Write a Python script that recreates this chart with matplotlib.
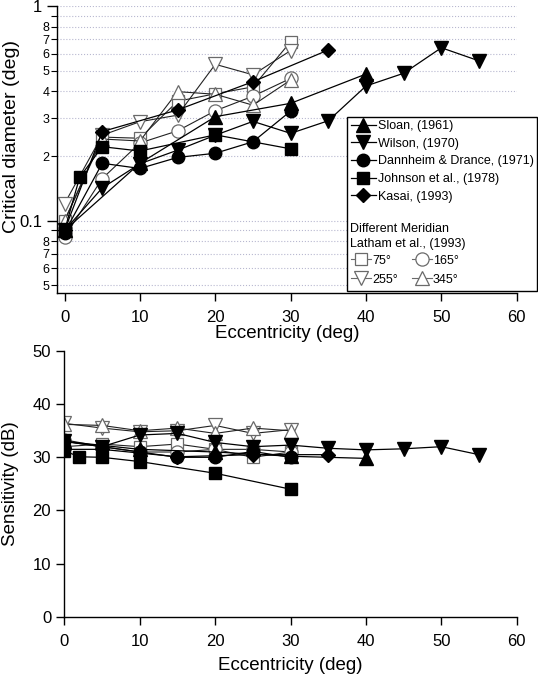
import numpy as np
import matplotlib.pyplot as plt
from matplotlib.lines import Line2D
from matplotlib.patches import Rectangle
from matplotlib.ticker import FixedLocator, FixedFormatter

plt.rcParams['font.family'] = ['Liberation Sans', 'DejaVu Sans']

# ---- critical diameter (deg) vs eccentricity ----
sloan_ecc_d = [0, 10, 20, 30, 40]
sloan_diam = [0.09, 0.185, 0.305, 0.352, 0.482]
wilson_ecc_d = [0, 5, 10, 15, 20, 25, 30, 35, 40, 45, 50, 55]
wilson_diam = [0.09, 0.142, 0.184, 0.213, 0.25, 0.29, 0.255, 0.292, 0.424, 0.486, 0.639, 0.555]
dann_ecc_d = [0, 5, 10, 15, 20, 25, 30]
dann_diam = [0.088, 0.185, 0.175, 0.197, 0.206, 0.233, 0.324]
johnson_ecc_d = [0, 2, 5, 10, 20, 30]
johnson_diam = [0.09, 0.159, 0.221, 0.211, 0.251, 0.216]
kasai_ecc_d = [0, 5, 15, 25, 35]
kasai_diam = [0.09, 0.26, 0.328, 0.444, 0.624]

latham_ecc = [0, 5, 10, 15, 20, 25, 30]
lat75_diam = [0.1, 0.245, 0.242, 0.36, 0.39, 0.42, 0.682]
lat165_diam = [0.084, 0.157, 0.23, 0.262, 0.325, 0.38, 0.46]
lat255_diam = [0.12, 0.25, 0.289, 0.31, 0.535, 0.478, 0.62]
lat345_diam = [0.1, 0.24, 0.235, 0.399, 0.388, 0.345, 0.452]

# ---- sensitivity (dB) vs eccentricity ----
sloan_ecc_s = [0, 10, 20, 30, 40]
sloan_sens = [33, 31.5, 31, 30.2, 29.8]
wilson_ecc_s = [0, 5, 10, 15, 20, 25, 30, 35, 40, 45, 50, 55]
wilson_sens = [33, 32, 34.2, 34.5, 32.8, 32.0, 32.3, 31.7, 31.4, 31.6, 32.0, 30.5]
dann_ecc_s = [0, 5, 10, 15, 20, 25, 30]
dann_sens = [33, 32, 31, 30, 30, 31.1, 30]
johnson_ecc_s = [0, 2, 5, 10, 20, 30]
johnson_sens = [31.2, 30.1, 30.0, 29.2, 27.0, 24.0]
kasai_ecc_s = [0, 5, 15, 25, 35]
kasai_sens = [31.5, 31.5, 30.1, 30.5, 30.5]
lat75_sens = [32, 32.5, 32, 32.5, 31.5, 30, 31]
lat165_sens = [33.3, 32, 31, 31, 31.5, 31.5, 31]
lat255_sens = [36.4, 35.5, 34.8, 35, 36.0, 34.5, 35.2]
lat345_sens = [36.2, 36.0, 35, 35.5, 34.5, 35.5, 35.0]

GRAY = '#6a6a6a'
filled = [
    ('Sloan, (1961)', '^', 9.5, sloan_ecc_d, sloan_diam, sloan_ecc_s, sloan_sens),
    ('Wilson, (1970)', 'v', 9.5, wilson_ecc_d, wilson_diam, wilson_ecc_s, wilson_sens),
    ('Dannheim & Drance, (1971)', 'o', 9, dann_ecc_d, dann_diam, dann_ecc_s, dann_sens),
    ('Johnson et al., (1978)', 's', 8.5, johnson_ecc_d, johnson_diam, johnson_ecc_s, johnson_sens),
    ('Kasai, (1993)', 'D', 7.5, kasai_ecc_d, kasai_diam, kasai_ecc_s, kasai_sens),
]
openm = [
    ('75°', 's', 9, lat75_diam, lat75_sens),
    ('165°', 'o', 9.5, lat165_diam, lat165_sens),
    ('255°', 'v', 10, lat255_diam, lat255_sens),
    ('345°', '^', 10, lat345_diam, lat345_sens),
]

fig = plt.figure(figsize=(5.38, 6.76), dpi=100)
ax1 = fig.add_axes([0.106, 0.5666, 0.8545, 0.4245])
ax2 = fig.add_axes([0.1197, 0.0877, 0.8407, 0.393])

for ax in (ax1, ax2):
    for s in ('top', 'right'):
        ax.spines[s].set_visible(False)
    ax.spines['left'].set_linewidth(1.0)
    ax.spines['bottom'].set_linewidth(1.0)

# open markers first, filled ones on top
for lab, mk, ms, dv, sv in openm:
    ax1.plot(latham_ecc, dv, marker=mk, ms=ms, mfc='white', mec=GRAY, mew=0.9,
             color='#222222', lw=0.8)
    ax2.plot(latham_ecc, sv, marker=mk, ms=ms, mfc='white', mec=GRAY, mew=0.9,
             color='#222222', lw=0.8)
for lab, mk, ms, xd, yd, xs, ys in filled:
    ax1.plot(xd, yd, marker=mk, ms=ms, color='black', lw=0.9)
    ax2.plot(xs, ys, marker=mk, ms=ms, color='black', lw=0.9)

# top axis, log scale
ax1.set_yscale('log')
ax1.set_ylim(0.046, 1.0)
ax1.set_xlim(-1, 60)
ax1.yaxis.set_major_locator(FixedLocator([0.1, 1.0]))
ax1.yaxis.set_major_formatter(FixedFormatter(['0.1', '1']))
minors = [0.05, 0.06, 0.07, 0.08, 0.09, 0.2, 0.3, 0.4, 0.5, 0.6, 0.7, 0.8, 0.9]
minor_labels = ['5', '6', '7', '8', '', '2', '3', '4', '5', '6', '7', '8', '']
ax1.yaxis.set_minor_locator(FixedLocator(minors))
ax1.yaxis.set_minor_formatter(FixedFormatter(minor_labels))
ax1.tick_params(axis='y', which='major', labelsize=12, length=7, width=1)
ax1.tick_params(axis='y', which='minor', labelsize=9, length=4, width=0.8, pad=1.5)
ax1.grid(True, which='both', axis='y', color='#b8b8d0', ls=':', lw=0.8)
ax1.set_axisbelow(True)
ax1.set_xticks([0, 10, 20, 30, 40, 50, 60])
ax1.tick_params(axis='x', labelsize=12, length=6, width=1, pad=6.5)
ax1.set_ylabel('Critical diameter (deg)', fontsize=14)
ax1.yaxis.set_label_coords(-0.080, 0.547)
ax1.set_xlabel('Eccentricity (deg)', fontsize=13.5)
ax1.xaxis.set_label_coords(0.5, -0.112)

ax2.set_xlim(0, 60)
ax2.set_ylim(0, 50)
ax2.set_xticks([0, 10, 20, 30, 40, 50, 60])
ax2.set_yticks([0, 10, 20, 30, 40, 50])
ax2.tick_params(labelsize=12, length=6, width=1)
ax2.tick_params(axis='x', pad=6.5)
ax2.set_ylabel('Sensitivity (dB)', fontsize=13.5)
ax2.yaxis.set_label_coords(-0.100, 0.5)
ax2.set_xlabel('Eccentricity (deg)', fontsize=13.5)
ax2.xaxis.set_label_coords(0.5, -0.150)

# legend box in figure coordinates
bx0, bx1 = 347 / 538, 537 / 538
by0, by1 = 1 - 291 / 676, 1 - 117 / 676
fig.patches.append(Rectangle((bx0, by0), bx1 - bx0, by1 - by0, transform=fig.transFigure,
                             fill=True, fc='white', ec='black', lw=1.0, zorder=5))

h1 = [Line2D([], [], marker=mk, ms=ms, color='black', lw=0.9) for lab, mk, ms, *_ in filled]
leg1 = fig.legend(h1, [f[0] for f in filled], loc='upper left',
                  bbox_to_anchor=(bx0, by1 + 0.001), borderaxespad=0, frameon=False, fontsize=9,
                  handlelength=2.0, handletextpad=0.15, labelspacing=0.45, borderpad=0.3)
leg1.set_zorder(6)

fig.text(bx0 + 0.006, 1 - 229 / 676, 'Different Meridian', fontsize=9, va='center', zorder=6)
fig.text(bx0 + 0.006, 1 - 244 / 676, 'Latham et al., (1993)', fontsize=9, va='center', zorder=6)

h2 = {lab: Line2D([], [], marker=mk, ms=ms, mfc='white', mec=GRAY, mew=0.9,
                  color=GRAY, lw=0.8) for lab, mk, ms, *_ in openm}
order = ['75°', '255°', '165°', '345°']
leg2 = fig.legend([h2[k] for k in order], order, loc='upper left', ncol=2,
                  bbox_to_anchor=(bx0, 1 - 251 / 676), borderaxespad=0, frameon=False,
                  fontsize=9, handlelength=1.6, handletextpad=0.1, labelspacing=0.55,
                  columnspacing=1.1, borderpad=0.3)
leg2.set_zorder(6)

fig.savefig('out.png', dpi=100)
